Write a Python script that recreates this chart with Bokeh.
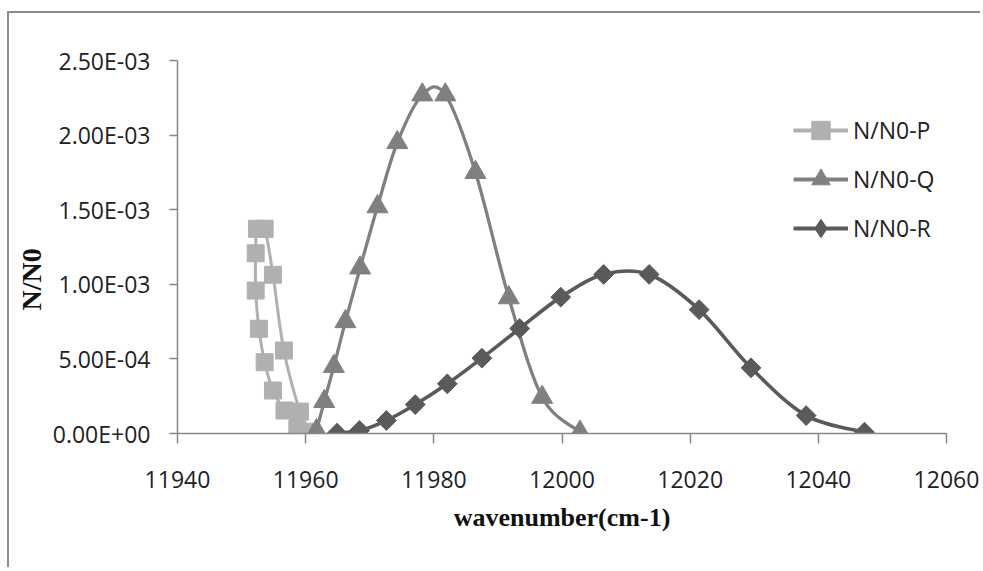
import numpy as np
from bokeh.plotting import figure
from bokeh.models import (Range1d, FixedTicker, Legend, LegendItem, Title,
                          CustomJSTickFormatter)
from bokeh.embed import file_html
from bokeh.resources import INLINE

# ---------------- data ----------------
p_x = [11958.7, 11956.7, 11954.9, 11953.6, 11952.7, 11952.2, 11952.2,
       11952.4, 11953.6, 11954.9, 11956.6, 11959.1, 11960.6]
p_y = [3.1e-5, 1.54e-4, 2.88e-4, 4.78e-4, 7.02e-4, 9.58e-4, 1.208e-3,
       1.372e-3, 1.372e-3, 1.064e-3, 5.56e-4, 1.47e-4, 1.2e-5]

q_x = [11961.7, 11962.9, 11964.4, 11966.2, 11968.5, 11971.2, 11974.3,
       11978.2, 11981.8, 11986.5, 11991.7, 11996.9, 12002.8]
q_y = [2.0e-5, 2.15e-4, 4.5e-4, 7.5e-4, 1.11e-3, 1.52e-3, 1.95e-3,
       2.27e-3, 2.27e-3, 1.75e-3, 9.1e-4, 2.43e-4, 1.0e-5]

r_x = [11964.9, 11968.4, 11972.6, 11977.1, 11982.1, 11987.5, 11993.4,
       11999.8, 12006.5, 12013.6, 12021.4, 12029.5, 12038.1, 12047.2]
r_y = [2.0e-6, 2.0e-5, 8.7e-5, 1.94e-4, 3.33e-4, 5.05e-4, 7.04e-4,
       9.14e-4, 1.066e-3, 1.066e-3, 8.3e-4, 4.4e-4, 1.2e-4, 9.0e-6]

series_names = ["N/N0-P", "N/N0-Q", "N/N0-R"]

x_ticks = [11940, 11960, 11980, 12000, 12020, 12040, 12060]
x_tick_labels = ["11940", "11960", "11980", "12000", "12020", "12040", "12060"]
y_ticks = [0.0, 0.0005, 0.001, 0.0015, 0.002, 0.0025]
y_tick_labels = ["0.00E+00", "5.00E-04", "1.00E-03", "1.50E-03", "2.00E-03", "2.50E-03"]

x_title = "wavenumber(cm-1)"
y_title = "N/N0"

# ---------------- styles ----------------
P_COL = "#b0b0b0"
Q_COL = "#808080"
R_COL = "#5a5a5a"
AXIS_COL = "#878787"
TEXT_COL = "#222222"
BORDER_COL = "#8c8c8c"

WIN_W, WIN_H = 983, 571
OFF_X, OFF_Y = 9, 13                 # chart-area border offset (margin + border)
W, H = WIN_W - OFF_X - 1, WIN_H - OFF_Y - 2
FL, FR, FT, FB = 177 - OFF_X, 946 - OFF_X, 60 - OFF_Y, 433 - OFF_Y   # frame edges in figure px


def smooth_segments(xs, ys):
    """Catmull-Rom control points (as used by spreadsheet 'smoothed lines')."""
    x = np.asarray(xs, float)
    y = np.asarray(ys, float)
    xp = np.concatenate([[x[0]], x, [x[-1]]])
    yp = np.concatenate([[y[0]], y, [y[-1]]])
    n = len(x)
    return dict(
        x0=x[:-1], y0=y[:-1], x1=x[1:], y1=y[1:],
        cx0=x[:-1] + (xp[2:n + 1] - xp[0:n - 1]) / 6.0,
        cy0=y[:-1] + (yp[2:n + 1] - yp[0:n - 1]) / 6.0,
        cx1=x[1:] - (xp[3:n + 2] - xp[1:n]) / 6.0,
        cy1=y[1:] - (yp[3:n + 2] - yp[1:n]) / 6.0,
    )


p = figure(width=W, height=H, output_backend="svg", toolbar_location=None,
           x_range=Range1d(x_ticks[0], x_ticks[-1]),
           y_range=Range1d(y_ticks[0], y_ticks[-1]),
           min_border_left=FL, min_border_right=W - FR,
           min_border_top=FT, min_border_bottom=H - FB,
           styles={"margin-left": "7px", "margin-top": "11px",
                   "border-left": f"2px solid {BORDER_COL}",
                   "border-top": f"2px solid {BORDER_COL}"})
p.background_fill_color = "white"
p.border_fill_color = "white"
p.outline_line_color = None
p.grid.visible = False

# axes
p.xaxis.ticker = FixedTicker(ticks=x_ticks)
p.yaxis.ticker = FixedTicker(ticks=y_ticks)
fmt_code = """
let best = 0;
for (let i = 0; i < tv.length; i++) {
  if (Math.abs(tv[i] - tick) < Math.abs(tv[best] - tick)) best = i;
}
return labs[best];
"""
p.xaxis.formatter = CustomJSTickFormatter(args=dict(tv=x_ticks, labs=x_tick_labels), code=fmt_code)
p.yaxis.formatter = CustomJSTickFormatter(args=dict(tv=y_ticks, labs=y_tick_labels), code=fmt_code)
for ax in (p.xaxis[0], p.yaxis[0]):
    ax.axis_line_color = AXIS_COL
    ax.axis_line_width = 1.5
    ax.major_tick_line_color = AXIS_COL
    ax.major_tick_line_width = 1.5
    ax.minor_tick_line_color = None
    ax.major_tick_in = 0
    ax.major_label_text_font = "Open Sans"
    ax.major_label_text_font_size = "23px"
    ax.major_label_text_color = TEXT_COL
p.yaxis.major_tick_out = 8
p.yaxis.major_label_standoff = 19
p.xaxis.major_tick_out = 10
p.xaxis.major_label_standoff = 27

# x title as the axis label
p.xaxis.axis_label = x_title
p.xaxis.axis_label_text_font = "Liberation Serif"
p.xaxis.axis_label_text_font_style = "bold"
p.xaxis.axis_label_text_font_size = "26px"
p.xaxis.axis_label_text_color = "#111111"
p.xaxis.axis_label_standoff = 12

# y title: a side title, shifted down from the centre like the reference
p.add_layout(Title(text=y_title, align="left", offset=123, standoff=5,
                   text_font="Liberation Serif", text_font_style="bold",
                   text_font_size="28px", text_color="#111111"), "left")

# series: smoothed line + markers, in spreadsheet order P, Q, R
sp = smooth_segments(p_x, p_y)
p.bezier(line_color=P_COL, line_width=3, line_cap="round", **sp)
rp = p.scatter(p_x, p_y, marker="square", size=17, fill_color=P_COL, line_color=P_COL)

sq = smooth_segments(q_x, q_y)
p.bezier(line_color=Q_COL, line_width=3.3, line_cap="round", **sq)
rq = p.scatter(q_x, q_y, marker="triangle", size=21, fill_color=Q_COL, line_color=Q_COL)

sr = smooth_segments(r_x, r_y)
p.bezier(line_color=R_COL, line_width=3.6, line_cap="round", **sr)
p.scatter(r_x, r_y, marker="square", angle=np.pi / 4, size=14, fill_color=R_COL, line_color=R_COL)

# legend proxies (NaN data: nothing drawn in the plot, only in the legend)
nan = [float("nan")]
lp = p.line(nan, nan, line_color=P_COL, line_width=4)
lq = p.line(nan, nan, line_color=Q_COL, line_width=4)
lr = p.line(nan, nan, line_color=R_COL, line_width=4)
dr = p.scatter(nan, nan, marker="diamond", fill_color=R_COL, line_color=R_COL)

legend = Legend(items=[LegendItem(label=series_names[0], renderers=[lp, rp]),
                       LegendItem(label=series_names[1], renderers=[lq, rq]),
                       LegendItem(label=series_names[2], renderers=[lr, dr])],
                location=(793 - 177, 433 - 251),
                glyph_width=55, glyph_height=46, spacing=3, padding=0, margin=0,
                label_standoff=5, label_text_font="Open Sans",
                label_text_font_size="23px", label_text_color=TEXT_COL,
                border_line_color=None, background_fill_alpha=0)
p.add_layout(legend)

open("out.html", "w").write(file_html(p, INLINE))
